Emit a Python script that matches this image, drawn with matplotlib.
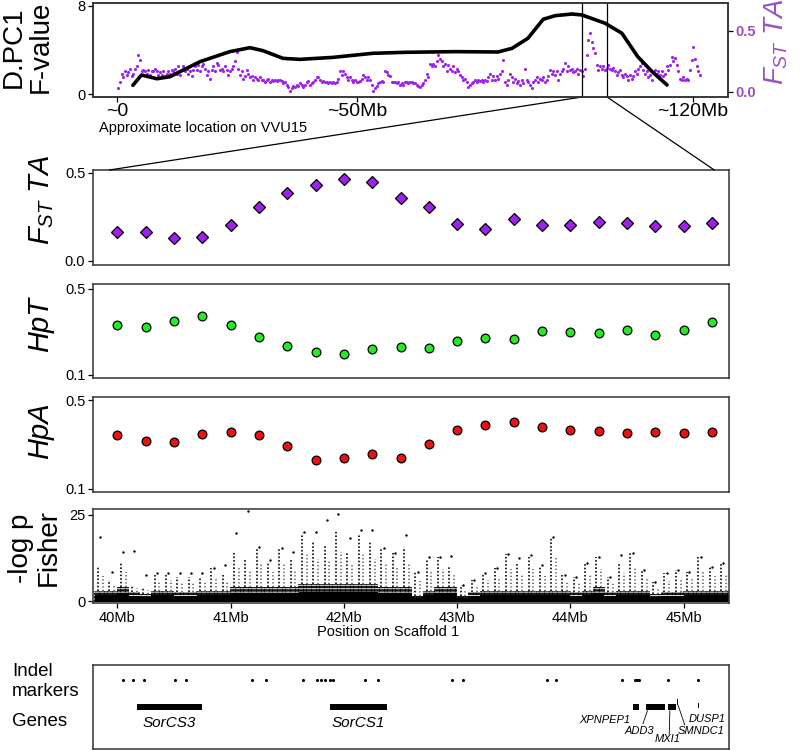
import numpy as np
import matplotlib
matplotlib.use('Agg')
import matplotlib.pyplot as plt
from matplotlib.patches import ConnectionPatch

plt.rcParams['font.family'] = ['Liberation Sans', 'DejaVu Sans']
plt.rcParams['mathtext.fontset'] = 'custom'
plt.rcParams['mathtext.it'] = 'Liberation Sans:italic'
plt.rcParams['mathtext.rm'] = 'Liberation Sans'
plt.rcParams['mathtext.sf'] = 'Liberation Sans'

# ---- top panel: whole chromosome (approximate Mb on VVU15)
curve_mb = [3.3, 5.1, 8.3, 11, 17.3, 23.5, 27.7, 30.4, 34.6, 38.1, 45, 53.3, 60, 70.4,
            79.4, 82.3, 85.6, 88.8, 91.3, 94.8, 96.9, 101.7, 105.2, 108.5, 111.5, 114.6]
curve_f = [0.79, 1.73, 1.39, 1.57, 2.94, 3.85, 4.21, 3.94, 3.24, 3.15, 3.33, 3.7, 3.79, 3.85,
           3.82, 4.15, 5.06, 6.79, 7.12, 7.27, 7.18, 6.43, 5.52, 3.39, 2.03, 0.82]

fst_chrom = [
    0.03, 0.085, 0.15, 0.12, 0.17, 0.14, 0.16, 0.19, 0.13, 0.15,
    0.19, 0.21, 0.30, 0.26, 0.17, 0.18, 0.17, 0.15, 0.18, 0.14,
    0.17, 0.17, 0.19, 0.17, 0.14, 0.16, 0.14, 0.17, 0.13, 0.15,
    0.17, 0.15, 0.18, 0.17, 0.19, 0.15, 0.21, 0.14, 0.18, 0.21,
    0.17, 0.19, 0.15, 0.17, 0.13, 0.18, 0.21, 0.18, 0.22, 0.17,
    0.21, 0.23, 0.19, 0.14, 0.17, 0.11, 0.18, 0.21, 0.17, 0.24,
    0.22, 0.18, 0.19, 0.17, 0.21, 0.18, 0.14, 0.17, 0.19, 0.21,
    0.25, 0.33, 0.19, 0.14, 0.17, 0.11, 0.13, 0.18, 0.15, 0.12,
    0.13, 0.10, 0.12, 0.11, 0.10, 0.12, 0.10, 0.10, 0.085, 0.10,
    0.11, 0.085, 0.10, 0.09, 0.10, 0.09, 0.10, 0.10, 0.09, 0.07,
    0.08, 0.06, 0.04, 0.01, 0.03, 0.05, 0.04, 0.06, 0.05, 0.07,
    0.06, 0.04, 0.06, 0.08, 0.09, 0.06, 0.07, 0.085, 0.10, 0.12,
    0.12, 0.10, 0.085, 0.09, 0.08, 0.085, 0.07, 0.08, 0.07, 0.08,
    0.07, 0.08, 0.11, 0.17, 0.14, 0.17, 0.15, 0.12, 0.10, 0.12,
    0.10, 0.085, 0.10, 0.085, 0.08, 0.09, 0.11, 0.14, 0.12, 0.10,
    0.12, 0.10, 0.06, 0.01, 0.03, 0.05, 0.07, 0.08, 0.09, 0.085,
    0.17, 0.16, 0.14, 0.13, 0.085, 0.08, 0.08, 0.07, 0.08, 0.06,
    0.07, 0.06, 0.08, 0.085, 0.07,
    0.08, 0.085, 0.07, 0.07, 0.06, 0.05, 0.04, 0.06, 0.07, 0.10,
    0.15, 0.12, 0.23, 0.21, 0.23, 0.21, 0.25, 0.30, 0.27, 0.25,
    0.21, 0.23, 0.17, 0.22, 0.19, 0.17, 0.21, 0.16, 0.19, 0.17,
    0.14, 0.12, 0.10, 0.11, 0.08, 0.04, 0.06, 0.07, 0.085, 0.10,
    0.085, 0.10, 0.09, 0.10, 0.085, 0.10, 0.09, 0.12, 0.15, 0.10,
    0.13, 0.10, 0.13, 0.11, 0.15, 0.17, 0.26, 0.085, 0.06, 0.10,
    0.15, 0.12, 0.085, 0.11, 0.07, 0.09, 0.06, 0.10, 0.07, 0.19,
    0.10, 0.085, 0.06, 0.03, 0.085, 0.10, 0.12, 0.085, 0.11, 0.10,
    0.12, 0.085, 0.10, 0.13, 0.18, 0.15, 0.17, 0.14, 0.17, 0.10,
    0.15, 0.17, 0.19, 0.24, 0.17, 0.21, 0.18, 0.19, 0.16, 0.17,
    0.19, 0.15, 0.18, 0.17, 0.13, 0.19, 0.30, 0.43, 0.48, 0.41,
    0.36, 0.32, 0.22, 0.18, 0.21, 0.19, 0.21, 0.18, 0.20, 0.22,
    0.19, 0.18, 0.20, 0.17, 0.14, 0.16, 0.18, 0.14, 0.12, 0.15,
    0.13, 0.10, 0.14, 0.11, 0.13, 0.17, 0.15, 0.19, 0.21, 0.24,
    0.18, 0.15, 0.17, 0.12, 0.14, 0.10, 0.16, 0.18, 0.15, 0.17,
    0.14, 0.17, 0.13, 0.15, 0.21, 0.18, 0.22, 0.29, 0.25, 0.28,
    0.22, 0.17, 0.11, 0.10, 0.12, 0.10, 0.11, 0.10, 0.18, 0.26,
    0.37, 0.27, 0.21, 0.17, 0.14]
fst_chrom_mb = np.linspace(0.28, 121.5, len(fst_chrom))
zoom_mb = [96.9, 102.1]

# ---- zoomed windows on scaffold 1
win_mb = [40.0, 40.25, 40.5, 40.75, 41.0, 41.25, 41.5, 41.75, 42.0, 42.25, 42.5,
          42.75, 43.0, 43.25, 43.5, 43.75, 44.0, 44.25, 44.5, 44.75, 45.0, 45.25]
fst_ta = [0.166, 0.163, 0.131, 0.135, 0.203, 0.309, 0.386, 0.434, 0.464, 0.447, 0.356,
          0.309, 0.210, 0.184, 0.237, 0.206, 0.205, 0.222, 0.214, 0.197, 0.201, 0.218]
hp_t = [0.333, 0.323, 0.351, 0.373, 0.334, 0.275, 0.233, 0.205, 0.199, 0.219, 0.230,
        0.226, 0.257, 0.272, 0.266, 0.303, 0.300, 0.295, 0.309, 0.286, 0.309, 0.348]
hp_a = [0.342, 0.314, 0.311, 0.346, 0.357, 0.345, 0.293, 0.231, 0.241, 0.255, 0.238,
        0.302, 0.366, 0.389, 0.400, 0.381, 0.368, 0.359, 0.351, 0.357, 0.352, 0.357]

# Fisher -log p, read per 0.1 Mb bin starting at 39.8 Mb:
# dense band height, height of the dotted streak, tallest single point
fisher_base = [3, 3, 4, 2.5, 2, 3, 3, 2.5, 2.5, 3, 3, 3, 4, 4, 4, 4, 4, 4, 5, 5,
               5, 5, 5, 5, 5, 4, 4, 4, 1.5, 3, 4, 4, 1.5, 2.5, 3, 3, 3, 3, 3, 3,
               3, 3, 2.5, 3, 4, 2.5, 3, 3, 3, 2, 2.5, 2.5, 3, 3, 3, 3]
fisher_streak = [10, 6, 11.4, 4.6, 4.2, 7.5, 8, 7, 7, 7, 9.5, 7.5, 13.9, 12, 15.3, 11.4,
                 15.3, 11.9, 19.2, 17, 16.3, 20.6, 14, 19.5, 17.2, 15.3, 13.9, 15.8, 8.5, 12,
                 12.9, 10, 4.6, 6, 8, 9.5, 13.6, 11, 13.4, 10, 18.7, 7.5, 7, 11, 12.9, 7,
                 11.4, 13.9, 9, 5.6, 8, 9, 8.5, 12.9, 10, 11]
fisher_top = [18.7, 8.5, 14.3, 14.6, 7.5, 8, 8, 8, 8, 8, 9.5, 10.5, 19.7, 26, 15.8, 12,
              15.3, 14.3, 20, 20, 23.5, 25.2, 18.2, 20.6, 20.6, 15.3, 13.9, 19.2, 8.5, 12.9,
              12.9, 13.2, 4.6, 6, 8, 9.5, 13.6, 12.6, 13.4, 10.5, 18.7, 7.5, 7, 11, 12.9, 7,
              13.4, 13.9, 9, 5.6, 8, 9, 8.5, 12.9, 10, 11]

indel_mb = [40.048, 40.142, 40.236, 40.51, 40.604, 41.192, 41.31, 41.642, 41.76, 41.795,
            41.834, 41.878, 41.907, 42.186, 42.303, 42.957, 43.054, 43.795, 43.869, 44.452,
            44.569, 44.59, 44.607, 44.858, 45.128]
gene_names = ['SorCS3', 'SorCS1', 'XPNPEP1', 'ADD3', 'MXI1', 'SMNDC1', 'DUSP1']
gene_start = [40.171, 41.879, 44.549, 44.666, 44.863, 44.943, 45.125]
gene_end = [40.750, 42.378, 44.607, 44.834, 44.931, 44.950, 45.132]

W, H = 800, 751
fig = plt.figure(figsize=(8, 7.51), dpi=100)


def rect(x0, y0, x1, y1):
    return [x0 / W, 1 - y1 / H, (x1 - x0) / W, (y1 - y0) / H]


def style(ax):
    for s in ax.spines.values():
        s.set_linewidth(1.1)
        s.set_color('#333333')
    ax.tick_params(direction='out', length=3.5, width=0.9, labelsize=10.5, pad=2)


purple = '#A020F0'
xl = (39.785, 45.4)

# top panel
ax0 = fig.add_axes(rect(93, 3, 728, 97))
style(ax0)
ax0.plot(curve_mb, curve_f, color='black', lw=2.6, solid_capstyle='round', zorder=3)
for z in zoom_mb:
    ax0.axvline(z, color='black', lw=0.9)
ax0.set_xlim(-5, 127.3)
ax0.set_ylim(-0.27, 8.27)
ax0.set_yticks([0, 8])
ax0.set_xticks([0, 50, 120])
ax0.set_xticklabels(['~0', '~50Mb', '~120Mb'], fontsize=14)
ax0.tick_params(axis='x', pad=1)
ax0r = ax0.twinx()
ax0r.scatter(fst_chrom_mb, fst_chrom, s=5, color=purple, linewidths=0)
ax0r.set_ylim(-0.041, 0.7295)
ax0r.set_yticks([0, 0.5])
ax0r.set_yticklabels(['0.0', '0.5'], color='#9A4FC5', fontweight='bold')
style(ax0r)
ax0.set_zorder(ax0r.get_zorder() + 1)
ax0.patch.set_visible(False)

fig.text(27 / W, 1 - 47 / H, 'D.PC1\nF-value', rotation=90, ha='center', va='center',
         fontsize=20, linespacing=1.05)
fig.text(776 / W, 1 - 42 / H, r'$F_{ST}\ TA$', rotation=90, ha='center', va='center',
         fontsize=20, color='#9A4FC5')
fig.text(99 / W, 1 - 128 / H, 'Approximate location on VVU15', ha='left', va='center',
         fontsize=10.5)

# FST TA
ax1 = fig.add_axes(rect(93, 170, 729, 265))
style(ax1)
ax1.plot(win_mb, fst_ta, 'D', ms=6.5, mfc=purple, mec='black', mew=0.9, ls='none')
ax1.set_xlim(*xl)
ax1.set_ylim(-0.023, 0.517)
ax1.set_yticks([0, 0.5])
ax1.set_yticklabels(['0.0', '0.5'])
ax1.set_xticks([])
fig.text(42 / W, 1 - 200 / H, r'$F_{ST}\ TA$', rotation=90, ha='center', va='center',
         fontsize=21)

# HpT
ax2 = fig.add_axes(rect(93, 284, 729, 378))
style(ax2)
ax2.plot(win_mb, hp_t, 'o', ms=6.3, mfc='#22EE22', mec='black', mew=0.9, ls='none')
ax2.set_xlim(*xl)
ax2.set_ylim(0.085, 0.523)
ax2.set_yticks([0.1, 0.5])
ax2.set_yticklabels(['0.1', '0.5'])
ax2.set_xticks([])
fig.text(40 / W, 1 - 325 / H, 'HpT', rotation=90, ha='center', va='center',
         fontsize=21, style='italic')

# HpA
ax3 = fig.add_axes(rect(93, 397, 729, 492))
style(ax3)
ax3.plot(win_mb, hp_a, 'o', ms=6.3, mfc='#EE1111', mec='black', mew=0.9, ls='none')
ax3.set_xlim(*xl)
ax3.set_ylim(0.0845, 0.5155)
ax3.set_yticks([0.1, 0.5])
ax3.set_yticklabels(['0.1', '0.5'])
ax3.set_xticks([])
fig.text(40 / W, 1 - 431 / H, 'HpA', rotation=90, ha='center', va='center',
         fontsize=21, style='italic')

# Fisher: solid core, dotted columns for the dense band, dotted streaks above
ax4 = fig.add_axes(rect(93, 509, 729, 603))
style(ax4)
edges = 39.8 + 0.1 * np.arange(len(fisher_base) + 1)
centers = edges[:-1] + 0.05
core = [b * 0.55 for b in fisher_base]
ax4.fill_between(edges, -0.3, core + [core[-1]], step='post', color='black', lw=0)
sub = np.arange(7) / 7 * 0.1
for k, b in enumerate(fisher_base):
    ax4.vlines(edges[k] + sub + 0.007, -0.3, b, colors='black', lw=1.3,
               linestyles=(0, (1.4, 0.5)))
ax4.vlines(centers - 0.02, fisher_base, fisher_streak, colors='black', lw=1.3,
           linestyles=(0, (0.9, 1.1)), alpha=0.9)
ax4.vlines(centers + 0.022, fisher_base, [b + (s - b) * 0.6 for b, s in
                                          zip(fisher_base, fisher_streak)],
           colors='black', lw=1.1, linestyles=(0, (0.8, 1.5)), alpha=0.7)
ax4.scatter(centers, fisher_top, s=3, color='black', linewidths=0)
ax4.set_xlim(*xl)
ax4.set_ylim(-0.58, 26.7)
ax4.set_yticks([0, 25])
ax4.set_xticks([40, 41, 42, 43, 44, 45])
ax4.set_xticklabels(['40Mb', '41Mb', '42Mb', '43Mb', '44Mb', '45Mb'])
fig.text(35 / W, 1 - 548 / H, '-log p\nFisher', rotation=90, ha='center', va='center',
         fontsize=20, linespacing=1.05)
fig.text(388 / W, 1 - 632 / H, 'Position on Scaffold 1', ha='center', va='center',
         fontsize=10.5)

# genes panel
ax5 = fig.add_axes(rect(93, 665, 729, 749))
style(ax5)
ax5.set_xlim(*xl)
ax5.set_ylim(0, 1)
ax5.set_xticks([])
ax5.set_yticks([])
ax5.scatter(indel_mb, [0.82] * len(indel_mb), s=5, color='black', linewidths=0)
for name, s, e in zip(gene_names, gene_start, gene_end):
    if name == 'SMNDC1':
        ax5.bar(s, 0.075, width=e - s, bottom=0.52, align='edge', color='black')
    elif name == 'DUSP1':
        ax5.bar(s, 0.06, width=e - s, bottom=0.49, align='edge', color='black')
    else:
        ax5.bar(s, 0.075, width=e - s, bottom=0.465, align='edge', color='black')

ax5.text(40.46, 0.31, 'SorCS3', style='italic', fontsize=11, ha='center', va='center')
ax5.text(42.13, 0.31, 'SorCS1', style='italic', fontsize=11, ha='center', va='center')
ax5.text(44.30, 0.35, 'XPNPEP1', style='italic', fontsize=8, ha='center', va='center')
ax5.text(44.61, 0.22, 'ADD3', style='italic', fontsize=8, ha='center', va='center')
ax5.text(44.855, 0.12, 'MXI1', style='italic', fontsize=8, ha='center', va='center')
ax5.text(45.15, 0.215, 'SMNDC1', style='italic', fontsize=8, ha='center', va='center')
ax5.text(45.21, 0.36, 'DUSP1', style='italic', fontsize=8, ha='center', va='center')
ax5.plot([44.64, 44.68], [0.30, 0.455], color='black', lw=0.6)
ax5.plot([44.872, 44.878], [0.18, 0.455], color='black', lw=0.6)
ax5.plot([45.01, 44.951], [0.285, 0.52], color='black', lw=0.6)

fig.text(12 / W, 1 - 672 / H, 'Indel', ha='left', va='center', fontsize=13.5)
fig.text(12 / W, 1 - 692 / H, 'markers', ha='left', va='center', fontsize=13.5)
fig.text(12 / W, 1 - 722 / H, 'Genes', ha='left', va='center', fontsize=13.5)

# zoom connector lines
for xa, xb in [(zoom_mb[0], 39.93), (zoom_mb[1], 45.27)]:
    con = ConnectionPatch(xyA=(xa, -0.27), coordsA=ax0.transData,
                          xyB=(xb, 0.517), coordsB=ax1.transData,
                          color='black', lw=0.9)
    fig.add_artist(con)

fig.savefig('out.png', dpi=100)
